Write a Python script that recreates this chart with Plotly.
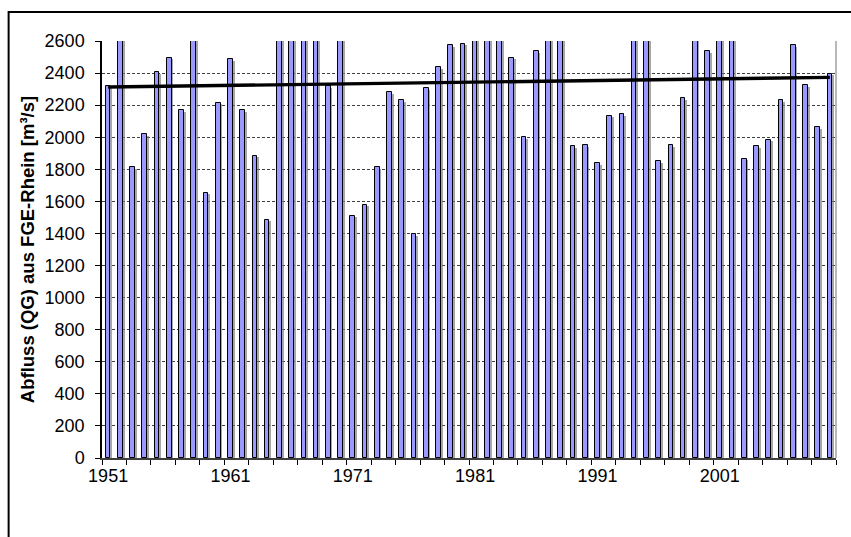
import plotly.graph_objects as go

years = list(range(1951, 2011))
abfluss = [
    2320, 2900, 1815, 2020, 2405, 2495, 2170, 2800, 1655, 2215,
    2485, 2170, 1885, 1485, 2900, 3000, 2800, 2900, 2320, 2900,
    1510, 1580, 1815, 2280, 2230, 1395, 2305, 2435, 2573, 2583,
    3000, 2800, 2950, 2495, 2000, 2535, 3000, 2800, 1945, 1950,
    1840, 2135, 2145, 3100, 2900, 1850, 1950, 2245, 2800, 2535,
    3000, 2900, 1865, 1945, 1985, 2230, 2573, 2325, 2063, 2395,
]
trend_years = [1951, 2010]
trend_values = [2313, 2373]
tick_years = [1951, 1961, 1971, 1981, 1991, 2001]
y_ticks = list(range(0, 2601, 200))

FONT = "Liberation Sans, Arial, sans-serif"
W, H = 851, 537
L, R, T, B = 101.5, 836.5, 41, 458.3
pw, ph = R - L, B - T

bar_w = 0.38
shadow_dx = 0.15
shadow_dy = 10

fig = go.Figure()
fig.add_trace(go.Bar(
    x=years, y=[v - shadow_dy for v in abfluss], width=bar_w,
    offset=-bar_w / 2 + shadow_dx,
    marker=dict(color="rgba(120,120,120,0.65)", line=dict(width=0)),
    hoverinfo="skip", showlegend=False,
))
fig.add_trace(go.Bar(
    x=years, y=abfluss, width=bar_w, offset=-bar_w / 2,
    marker=dict(color="#9999FF", line=dict(color="black", width=1)),
    showlegend=False, name="Abfluss",
))
fig.add_trace(go.Scatter(
    x=trend_years, y=trend_values, mode="lines",
    line=dict(color="black", width=3.4), showlegend=False,
))

fig.update_layout(
    width=W, height=H,
    margin=dict(l=L, r=W - R, t=T, b=H - B, pad=0),
    paper_bgcolor="white", plot_bgcolor="white",
    barmode="overlay", bargap=0,
    font=dict(family=FONT, size=18, color="black"),
    shapes=[
        dict(type="line", xref="paper", yref="paper", x0=1, x1=1, y0=0, y1=1,
             line=dict(color="#A0A0A0", width=1.5)),
        dict(type="rect", xref="paper", yref="paper",
             x0=(8 - L) / pw, x1=1.2, y0=-0.5, y1=1 + (T - 12) / ph,
             line=dict(color="black", width=2), fillcolor="rgba(0,0,0,0)",
             layer="above"),
    ],
)
fig.update_xaxes(
    range=[1950.5, 2010.5], tickvals=tick_years, ticktext=[str(y) for y in tick_years],
    ticks="", showgrid=False, zeroline=False,
    showline=True, linecolor="#404040", linewidth=1.5,
    tickfont=dict(size=18), ticklabelstandoff=1,
    minor=dict(ticks="outside", tick0=1950.5, dtick=2, ticklen=5,
               tickcolor="black", tickwidth=1, showgrid=False),
)
fig.update_yaxes(
    range=[0, 2600], tickvals=y_ticks, ticks="outside", ticklen=5,
    tickcolor="black", showline=True, linecolor="black", linewidth=1.5,
    showgrid=True, gridcolor="#404040", griddash="3px,2px", gridwidth=1,
    zeroline=False, tickfont=dict(size=18), ticklabelstandoff=7,
    title=dict(text="<b>Abfluss (QG) aus FGE-Rhein [m³/s]</b>",
               font=dict(size=18.5), standoff=5),
)

fig.write_html(
    "out.html",
    config={"displayModeBar": False},
    post_script="document.body.style.margin='0';document.body.style.overflow='hidden';",
)
